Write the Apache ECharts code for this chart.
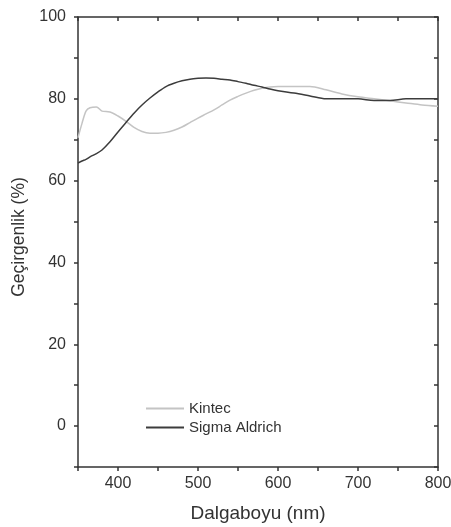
<!DOCTYPE html>
<html><head><meta charset="utf-8">
<script src="https://cdn.jsdelivr.net/npm/echarts@6/dist/echarts.min.js"></script>
<style>html,body{margin:0;padding:0;background:#fff}#c{width:451px;height:527px}</style>
</head><body><div id="c"></div>
<script>
const wavelengths = [350,355,360,365,373,380,390,400,410,420,430,440,450,460,470,480,490,500,510,520,530,540,550,560,570,580,590,600,620,640,660,680,700,720,740,760,780,800];
const kintec =      [70.5,74,77,77.8,78,77,76.8,75.8,74.5,73,72,71.6,71.6,71.8,72.3,73.1,74.2,75.3,76.3,77.3,78.5,79.7,80.6,81.4,82.1,82.6,82.9,83,83,83,82.2,81.2,80.5,80,79.5,79,78.5,78.2];
const sigma =       [64.3,64.8,65.2,65.8,66.6,67.5,69.5,71.9,74.2,76.5,78.5,80.2,81.7,83,83.8,84.4,84.8,85,85.1,85,84.8,84.6,84.2,83.8,83.3,82.9,82.4,82,81.4,80.7,80,80,80,79.6,79.6,80,80,80];
const seriesNames = ['Kintec','Sigma Aldrich'];
const xTicks = {min:350, max:800, step:50, labelStep:100};
const yTicks = {min:-10, max:100, step:10, labelStep:20};

const chart = echarts.init(document.getElementById('c'));
const axisCol = '#333';
const font = 'Liberation Sans, Arial, sans-serif';
chart.setOption({
  animation:false,
  grid:{left:78,right:13,top:17,bottom:60,containLabel:false,outerBoundsMode:'none'},
  legend:{
    orient:'vertical', left:141, top:396, itemWidth:38, itemHeight:2, itemGap:4,
    icon:'rect',
    textStyle:{fontFamily:font,fontSize:15,color:'#333'},
    data:seriesNames
  },
  xAxis:[{
    type:'value', min:xTicks.min, max:xTicks.max, interval:xTicks.step,
    name:'Dalgaboyu (nm)', nameLocation:'middle', nameGap:37,
    nameTextStyle:{fontFamily:font,fontSize:19,color:'#333'},
    axisLine:{show:true,onZero:false,lineStyle:{color:axisCol,width:1.5}},
    axisTick:{show:true,inside:false,length:4,lineStyle:{color:axisCol,width:1.5}},
    axisLabel:{fontFamily:font,fontSize:16,color:'#333',margin:9,
      formatter:v=> (v%xTicks.labelStep===0 ? String(v) : '')},
    splitLine:{show:false}
  },{
    type:'value', position:'top', min:xTicks.min, max:xTicks.max, interval:xTicks.step,
    axisLine:{show:true,onZero:false,lineStyle:{color:axisCol,width:1.5}},
    axisTick:{show:true,inside:true,length:4,lineStyle:{color:axisCol,width:1.5}},
    axisLabel:{show:false}, splitLine:{show:false}
  }],
  yAxis:[{
    type:'value', min:yTicks.min, max:yTicks.max, interval:yTicks.step,
    name:'Geçirgenlik (%)', nameLocation:'middle', nameGap:38, nameRotate:90,
    nameTextStyle:{fontFamily:font,fontSize:17.5,color:'#333',padding:[0,0,0,10]},
    axisLine:{show:true,onZero:false,lineStyle:{color:axisCol,width:1.5}},
    axisTick:{show:true,inside:false,length:4,lineStyle:{color:axisCol,width:1.5}},
    axisLabel:{fontFamily:font,fontSize:16,color:'#333',margin:12,
      formatter:v=> (v%yTicks.labelStep===0 ? String(v) : '')},
    splitLine:{show:false}
  },{
    type:'value', position:'right', min:yTicks.min, max:yTicks.max, interval:yTicks.step,
    axisLine:{show:true,onZero:false,lineStyle:{color:axisCol,width:1.5}},
    axisTick:{show:true,inside:true,length:4,lineStyle:{color:axisCol,width:1.5}},
    axisLabel:{show:false}, splitLine:{show:false}
  }],
  series:[
    {name:seriesNames[0], type:'line', showSymbol:false, smooth:0.3,
     itemStyle:{color:'#c4c4c4'}, lineStyle:{color:'#c4c4c4',width:1.5},
     data:wavelengths.map((w,i)=>[w,kintec[i]])},
    {name:seriesNames[1], type:'line', showSymbol:false, smooth:0.3,
     itemStyle:{color:'#3c3c3c'}, lineStyle:{color:'#3c3c3c',width:1.5},
     data:wavelengths.map((w,i)=>[w,sigma[i]])}
  ]
});
</script></body></html>
